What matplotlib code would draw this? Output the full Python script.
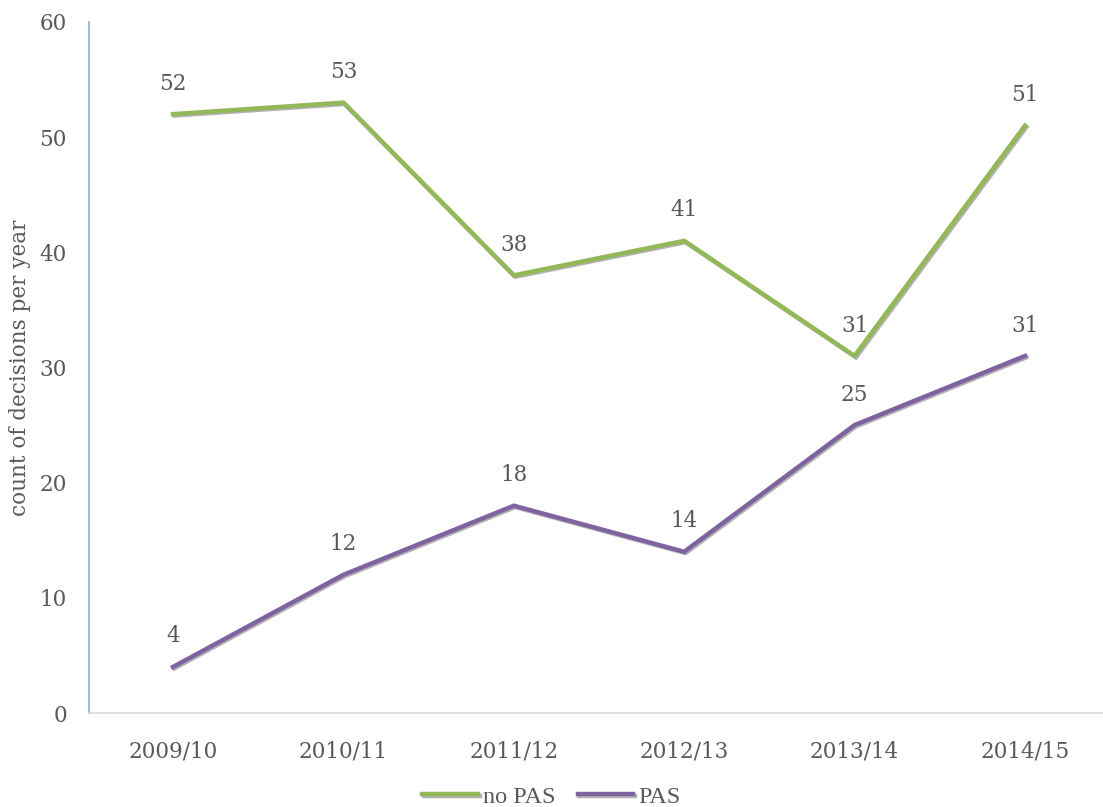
import matplotlib.pyplot as plt
import matplotlib.patheffects as pe

years = ["2009/10", "2010/11", "2011/12", "2012/13", "2013/14", "2014/15"]
no_pas = [52, 53, 38, 41, 31, 51]
pas = [4, 12, 18, 14, 25, 31]

W, H = 1103, 807
fig = plt.figure(figsize=(W / 100, H / 100), dpi=100)
ax = fig.add_axes([89 / W, (H - 713) / H, (W - 89) / W, (713 - 22) / H])

text_col = "#595959"
green = "#93b857"
purple = "#7f63a1"
shadow = [pe.SimpleLineShadow(offset=(1.0, -1.0), shadow_color="#666666", alpha=0.5), pe.Normal()]

x = list(range(len(years)))
ax.plot(x, no_pas, color=green, lw=3.2, label="no PAS", path_effects=shadow, solid_joinstyle="miter")
ax.plot(x, pas, color=purple, lw=3.2, label="PAS", path_effects=shadow, solid_joinstyle="miter")

# data labels above each point
for series in (no_pas, pas):
    for xi, v in zip(x, series):
        ax.annotate(str(v), (xi, v), xytext=(0, 14), textcoords="offset points",
                    ha="center", va="bottom", fontsize=15.5, color=text_col, family="DejaVu Serif")

ax.set_xlim(-0.493, 5.458)
ax.set_ylim(0, 60)
ax.set_yticks(range(0, 61, 10))
ax.set_xticks(x)
ax.set_xticklabels(years)
for lab in ax.get_xticklabels() + ax.get_yticklabels():
    lab.set_family("DejaVu Serif")
    lab.set_fontsize(15.5)
    lab.set_color(text_col)
ax.tick_params(axis="y", length=0, pad=16)
ax.tick_params(axis="x", length=0, pad=20)

for s in ["top", "right"]:
    ax.spines[s].set_visible(False)
ax.spines["left"].set_color("#8eaadb")
ax.spines["left"].set_linewidth(1.2)
ax.spines["bottom"].set_color("#d9d9d9")
ax.spines["bottom"].set_linewidth(1.2)

ax.set_ylabel("count of decisions per year", fontsize=15.5, color=text_col,
              family="DejaVu Serif", labelpad=6)

leg = fig.legend(loc="lower center", bbox_to_anchor=(0.5, -0.028), ncol=2, frameon=False,
                 prop={"family": "Liberation Serif", "size": 17.5}, handlelength=2.3,
                 handletextpad=0.2, columnspacing=0.9)
for t in leg.get_texts():
    t.set_color(text_col)

fig.savefig("out.png", dpi=100)
